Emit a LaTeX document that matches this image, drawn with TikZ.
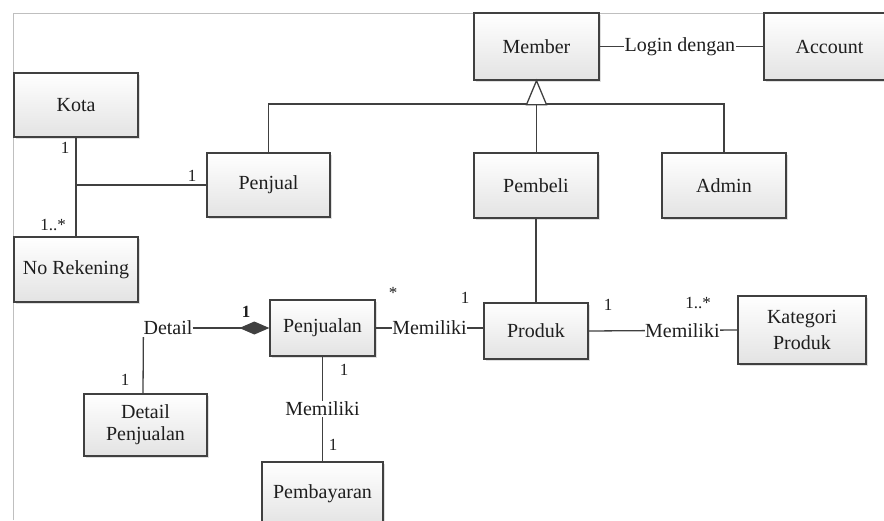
\documentclass[tikz,border=0pt]{standalone}
\usepackage{fontspec}
\setmainfont{Liberation Serif}
\usetikzlibrary{shadows,arrows.meta}
\definecolor{ln}{HTML}{404040}
\definecolor{tx}{HTML}{1E1E1E}
\tikzset{
  box/.style={draw=ln, line width=1.3pt, top color=white, bottom color=black!11,
    drop shadow={opacity=0.25, shadow xshift=2pt, shadow yshift=-2pt},
    text=tx, font=\fontsize{20}{22}\selectfont, align=center, inner sep=0pt},
  conn/.style={draw=ln, line width=1.3pt},
  lbl/.style={text=tx, font=\fontsize{20}{22}\selectfont, fill=white, inner sep=0.5pt},
  mult/.style={text=tx, font=\fontsize{17}{18}\selectfont, inner sep=0pt}
}
\begin{document}
\begin{tikzpicture}[x=1pt,y=-1pt]
\useasboundingbox (0,0) rectangle (884,520);
\clip (0,0) rectangle (884,520);
\draw[black!25, line width=0.8pt] (13,520) -- (13,13) -- (884,13);
% boxes
\node[box, minimum width=124pt, minimum height=64pt] (kota) at (76,105) {Kota};
\node[box, minimum width=124pt, minimum height=65pt] (norek) at (76,269.5) {No Rekening};
\node[box, minimum width=123pt, minimum height=64pt] (penjual) at (268.5,185) {Penjual};
\node[box, minimum width=125pt, minimum height=67pt] (member) at (536.5,46.5) {Member};
\node[box, minimum width=131pt, minimum height=67pt] (account) at (829.5,46.5) {Account};
\node[box, minimum width=124pt, minimum height=65pt] (pembeli) at (536,185.5) {Pembeli};
\node[box, minimum width=124pt, minimum height=65pt] (admin) at (724,185.5) {Admin};
\node[box, minimum width=104pt, minimum height=56pt] (produk) at (536,331) {Produk};
\node[box, minimum width=128pt, minimum height=68pt] (kategori) at (802,330) {Kategori\\[4pt]Produk};
\node[box, minimum width=105pt, minimum height=56pt] (penjualan) at (322.5,328) {Penjualan};
\node[box, minimum width=123pt, minimum height=62pt] (dp) at (145.5,425) {Detail\\Penjualan};
\node[box, minimum width=121pt, minimum height=64pt] (bayar) at (322.5,494) {Pembayaran};
% Kota / No Rekening / Penjual
\coordinate (j1) at (76,185);
\draw[conn] (kota) -- (norek);
\draw[conn] (j1) -- (penjual.west);
\node[mult] at (65,148) {1};
\node[mult] at (53,225) {1..*};
\node[mult] at (192,176) {1};
% generalization
\coordinate (hb) at (536.5,104);
\draw[conn] (penjual.north) |- (hb) -| (admin.north);
\draw[conn] (pembeli.north -| hb) -- (hb);
\draw[conn, fill=white, line join=miter] (member.south) -- ++(-10,24) -- ++(20,0) -- cycle;
% member - account
\draw[conn] (member.east) -- node[lbl, pos=0.49] {Login dengan} (account.west);
% pembeli - produk
\draw[conn] (pembeli.south) -- (produk.north);
% produk - kategori
\draw[conn] (produk.east) -- node[lbl, pos=0.63] {Memiliki} (kategori.west);
\node[mult] at (608,305) {1};
\node[mult] at (698,303) {1..*};
% penjualan - produk
\draw[conn] (penjualan.east) -- node[lbl, pos=0.5] {Memiliki} (penjualan.east -| produk.west);
\node[mult] at (393,293) {*};
\node[mult] at (465,298) {1};
% detail composition
\node[text=tx, font=\fontsize{20}{22}\selectfont, inner sep=0pt] (detail) at (168,328) {Detail};
\draw[conn, -{Diamond[length=30pt, width=13pt, fill=ln]}] (detail.east) -- (penjualan.west);
\draw[conn] ([yshift=-2pt]detail.south west) -- ([xshift=-2.5pt]dp.north);
\node[mult] at (246,312) {\bfseries 1};
\node[mult] at (125,380) {1};
% penjualan - pembayaran
\draw[conn] (penjualan.south) -- node[lbl, pos=0.5] {Memiliki} (bayar.north);
\node[mult] at (344,370) {1};
\node[mult] at (333,445) {1};
\end{tikzpicture}
\end{document}
